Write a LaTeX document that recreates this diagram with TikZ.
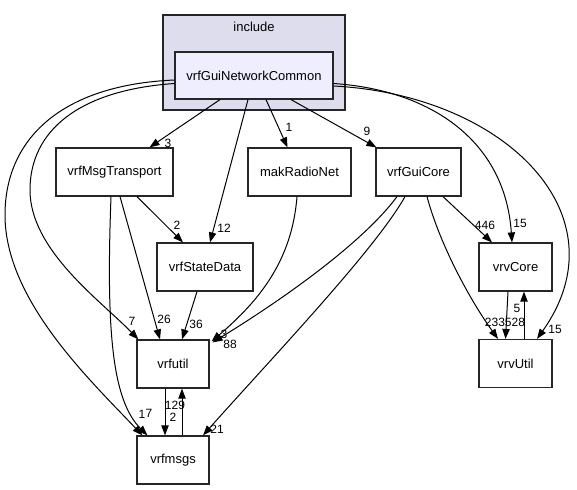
\documentclass[tikz,border=0pt]{standalone}
\usepackage{fontspec}
\setmainfont{Liberation Sans}
\usetikzlibrary{arrows.meta,calc}
\definecolor{clfill}{HTML}{DDDDEE}
\definecolor{gnfill}{HTML}{EEEEFF}
\begin{document}
\begin{tikzpicture}[x=0.75pt,y=-0.75pt,
  box/.style={draw=black!85, line width=0.9pt, fill=white, inner sep=0pt,
    minimum height={48*0.75pt}, font=\fontsize{9.75}{11}\selectfont},
  edge/.style={draw=black, line width=0.75pt, -{Triangle[length=7.5pt,width=5.5pt]}},
  lbl/.style={font=\fontsize{9}{10}\selectfont, inner sep=0pt}]
\path[use as bounding box] (0,0) rectangle (577,489);
% cluster
\node[draw=black!85, line width=0.9pt, fill=clfill, inner sep=0pt,
  minimum width={182*0.75pt}, minimum height={95*0.75pt}] (inc) at (254,62.5) {};
\node[font=\fontsize{9.75}{11}\selectfont, inner sep=0pt] (incl) at (254,27) {include};
\node[box, fill=gnfill, minimum width={158*0.75pt}, minimum height={47*0.75pt}] (GNC) at (254,75.5) {vrfGuiNetworkCommon};
% nodes
\node[box, minimum width={117*0.75pt}] (MT) at (114.5,172) {vrfMsgTransport};
\node[box, minimum width={103*0.75pt}] (MRN) at (299.5,172) {makRadioNet};
\node[box, minimum width={85*0.75pt}] (GC) at (418.5,172) {vrfGuiCore};
\node[box, minimum width={96*0.75pt}] (SD) at (205,267) {vrfStateData};
\node[box, minimum width={73*0.75pt}] (VC) at (515.5,267) {vrvCore};
\node[box, minimum width={73*0.75pt}] (VU) at (515.5,363.5) {vrvUtil};
\node[box, minimum width={72*0.75pt}] (FU) at (173,364) {vrfutil};
\node[box, minimum width={72*0.75pt}] (FM) at (173,460) {vrfmsgs};
% edges from vrfGuiNetworkCommon
\draw[edge] ($(GNC.south)+(-34,0)$) -- ($(MT.north)+(35,0)$);
\draw[edge] ($(GNC.south)+(-6,0)$) -- ($(SD.north)+(5,0)$);
\draw[edge] ($(GNC.south)+(12,0)$) -- ($(MRN.north)+(-12,0)$);
\draw[edge] ($(GNC.south)+(37,0)$) -- ($(GC.north west)+(1,0)$);
\draw[edge] ($(GNC.east)+(0,8)$) .. controls (430,90) and (505,140) .. ($(VC.north)+(-3.5,0)$);
\draw[edge] ($(GNC.east)+(0,10.5)$) .. controls (505,95) and (625,215) .. ($(VU.north)+(21.5,0)$);
\draw[edge] ($(GNC.west)+(0,8)$) .. controls (80,90) and (30,130) .. (30,190)
  .. controls (30,250) and (100,300) .. ($(FU.north west)+(2,0)$);
\draw[edge] ($(GNC.west)+(0,4.5)$) .. controls (60,85) and (5,140) .. (5,215)
  .. controls (5,300) and (90,380) .. ($(FM.north west)+(6,0)$);
% other edges
\draw[edge] ($(MT.south)+(22.5,0)$) -- ($(SD.north)+(-22,0)$);
\draw[edge] ($(MT.south)+(5.5,0)$) -- ($(FU.north)+(-13,0)$);
\draw[edge] ($(MT.south)+(-3.5,0)$) .. controls (106,330) and (112,400) .. ($(FM.north west)+(11,0)$);
\draw[edge] ($(SD.south)+(-8,0)$) -- ($(FU.north)+(9,0)$);
\draw[edge] ($(MRN.south)+(-2.5,0)$) .. controls (292,260) and (260,300) .. ($(FU.north east)+(2,2)$);
\draw[edge] ($(GC.south)+(-21.5,0)$) .. controls (365,240) and (290,295) .. ($(FU.north east)+(3,3)$);
\draw[edge] ($(GC.south)+(-13.5,0)$) .. controls (375,250) and (270,360) .. ($(FM.north)+(30,0)$);
\draw[edge] ($(GC.south)+(24.5,0)$) -- ($(VC.north)+(-23.5,0)$);
\draw[edge] ($(GC.south)+(8.5,0)$) .. controls (440,245) and (470,300) .. ($(VU.north)+(-17.5,0)$);
\draw[edge] ($(VC.south)+(-7.5,0)$) -- ($(VU.north)+(-10,0)$);
\draw[edge] ($(VU.north)+(8.5,0)$) -- ($(VC.south)+(8.5,0)$);
\draw[edge] ($(FU.south)+(-8,0)$) -- ($(FM.north)+(-8,0)$);
\draw[edge] ($(FM.north)+(9,0)$) -- ($(FU.south)+(9,0)$);
% labels
\node[lbl] (l1) at (168,143) {3};
\node[lbl] (l2) at (224,228) {12};
\node[lbl] (l3) at (289,127) {1};
\node[lbl] (l4) at (367,131) {9};
\node[lbl] (l5) at (520,223) {15};
\node[lbl] (l6) at (555,329) {15};
\node[lbl] (l7) at (132,321) {7};
\node[lbl] (l8) at (142,414) {1};
\node[lbl] (l9) at (149,413) {7};
\node[lbl] (l10) at (177,225) {2};
\node[lbl] (l11) at (164,319) {26};
\node[lbl] (l12) at (196,324) {36};
\node[lbl] (l13) at (224,334) {3};
\node[lbl] (l14) at (230,344) {88};
\node[lbl] (l15) at (217,429) {21};
\node[lbl] (l16) at (485,225) {446};
\node[lbl] (l17) at (495,322) {233};
\node[lbl] (l18) at (515,322) {528};
\node[lbl] (l19) at (517,308) {5};
\node[lbl] (l20) at (173,417) {2};
\node[lbl] (l21) at (175,405) {129};
\end{tikzpicture}
\end{document}
